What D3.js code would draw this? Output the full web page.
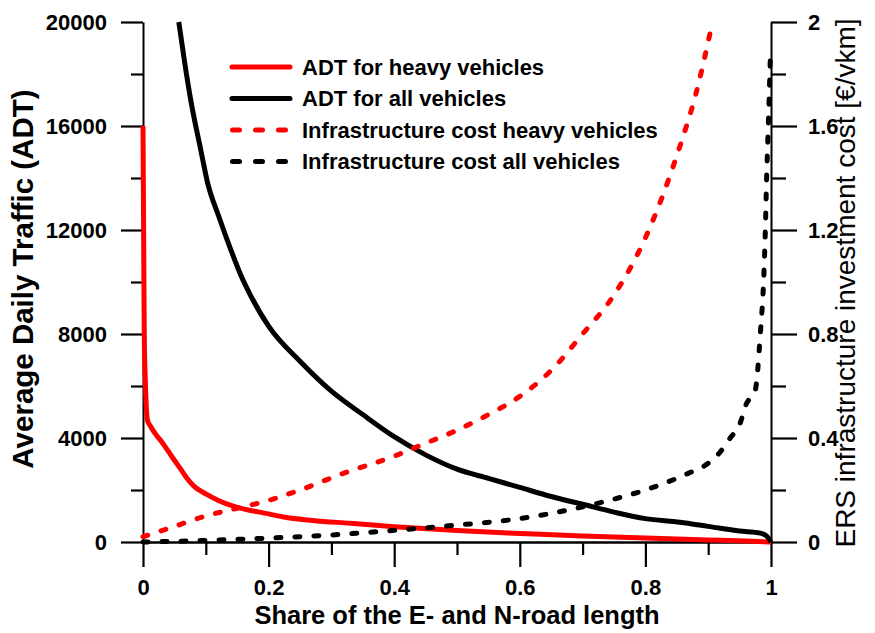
<!DOCTYPE html>
<html>
<head>
<meta charset="utf-8">
<script src="https://cdn.jsdelivr.net/npm/d3@7"></script>
<style>
  body { margin: 0; background: #fff; }
  svg { font-family: "Liberation Sans", Arial, sans-serif; }
</style>
</head>
<body>
<div id="chart"></div>
<script>
// share of road length vs ADT / cost
const heavyShare = [0, 0.001, 0.002, 0.004, 0.007, 0.012, 0.02, 0.03, 0.04, 0.047, 0.06, 0.07, 0.081, 0.1, 0.12, 0.145, 0.2, 0.224, 0.27, 0.33, 0.4, 0.5, 0.6, 0.7, 0.8, 0.9, 0.95, 1];
const heavyADT = [16000, 12000, 8000, 6000, 4700, 4450, 4150, 3850, 3500, 3250, 2800, 2450, 2150, 1850, 1600, 1370, 1080, 960, 830, 720, 590, 440, 330, 230, 150, 80, 45, 0];

const allShare = [0.057, 0.066, 0.076, 0.092, 0.103, 0.121, 0.14, 0.156, 0.172, 0.2, 0.25, 0.3, 0.35, 0.4, 0.45, 0.5, 0.55, 0.6, 0.65, 0.7, 0.75, 0.8, 0.855, 0.9, 0.95, 0.983, 0.993, 1];
const allADT = [20000, 18500, 17000, 15080, 13800, 12500, 11230, 10250, 9450, 8300, 6950, 5800, 4900, 4050, 3350, 2800, 2450, 2100, 1750, 1450, 1150, 900, 760, 600, 420, 340, 230, 0];

const costHeavyShare = [0, 0.05, 0.1, 0.15, 0.2, 0.25, 0.32, 0.4, 0.45, 0.5, 0.55, 0.6, 0.65, 0.7, 0.75, 0.8, 0.856, 0.88, 0.905];
const costHeavy = [0.02, 0.06, 0.1, 0.13, 0.16, 0.2, 0.265, 0.33, 0.38, 0.43, 0.49, 0.56, 0.66, 0.8, 0.95, 1.17, 1.53, 1.72, 1.98];

const costAllShare = [0, 0.1, 0.2, 0.3, 0.4, 0.5, 0.6, 0.65, 0.7, 0.75, 0.8, 0.85, 0.869, 0.896, 0.919, 0.935, 0.951, 0.96, 0.975, 0.983, 0.989, 0.991, 0.993, 0.995, 0.997, 0.999];
const costAll = [0, 0.006, 0.015, 0.027, 0.045, 0.065, 0.09, 0.11, 0.135, 0.165, 0.2, 0.245, 0.265, 0.296, 0.346, 0.4, 0.458, 0.527, 0.585, 0.8, 1.05, 1.2, 1.4, 1.55, 1.7, 1.87];

const seriesNames = ['ADT for heavy vehicles', 'ADT for all vehicles', 'Infrastructure cost heavy vehicles', 'Infrastructure cost all vehicles'];
const xTicks = [0, 0.2, 0.4, 0.6, 0.8, 1];
const yTicks = [0, 4000, 8000, 12000, 16000, 20000];
const y2Ticks = [0, 0.4, 0.8, 1.2, 1.6, 2];

const width = 875;
const height = 633;
const margin = { top: 22, right: 104, bottom: 91, left: 143 };
const font = 'Liberation Sans, Arial, sans-serif';

const svg = d3.select('#chart')
  .append('svg')
  .attr('width', width)
  .attr('height', height);

const x = d3.scaleLinear().domain([0, 1]).range([margin.left, width - margin.right]);
const y = d3.scaleLinear().domain([0, 20000]).range([height - margin.bottom, margin.top]);
const y2 = d3.scaleLinear().domain([0, 2]).range([height - margin.bottom, margin.top]);

const minorOf = (ticks) => d3.range(ticks.length - 1).map((i) => (ticks[i] + ticks[i + 1]) / 2);

// axes: minor ticks first, then major with labels
const styleAxis = (g, sw) => {
  g.selectAll('path').attr('stroke-width', sw);
  g.selectAll('line').attr('stroke-width', 2.2);
};
const styleLabels = (g) => g.selectAll('text')
  .attr('font-size', 22)
  .attr('font-weight', 'bold')
  .attr('fill', '#000')
  .attr('font-family', font);

svg.append('g')
  .attr('transform', `translate(${margin.left},0)`)
  .call(d3.axisLeft(y).tickValues(minorOf(yTicks)).tickSize(12).tickFormat('').tickSizeOuter(0))
  .call((g) => g.select('.domain').remove())
  .call((g) => styleAxis(g, 2));
svg.append('g')
  .attr('transform', `translate(${margin.left},0)`)
  .call(d3.axisLeft(y).tickValues(yTicks).tickSize(22).tickPadding(14).tickFormat(d3.format('d')).tickSizeOuter(0))
  .call((g) => styleAxis(g, 2))
  .call(styleLabels);

svg.append('g')
  .attr('transform', `translate(${width - margin.right},0)`)
  .call(d3.axisRight(y2).tickValues(minorOf(y2Ticks)).tickSize(15).tickFormat('').tickSizeOuter(0))
  .call((g) => g.select('.domain').remove())
  .call((g) => styleAxis(g, 2));
svg.append('g')
  .attr('transform', `translate(${width - margin.right},0)`)
  .call(d3.axisRight(y2).tickValues(y2Ticks).tickSize(26).tickPadding(11).tickFormat((d) => String(d)).tickSizeOuter(0))
  .call((g) => styleAxis(g, 2))
  .call(styleLabels);

svg.append('g')
  .attr('transform', `translate(0,${height - margin.bottom})`)
  .call(d3.axisBottom(x).tickValues(minorOf(xTicks)).tickSize(13).tickFormat('').tickSizeOuter(0))
  .call((g) => g.select('.domain').remove())
  .call((g) => styleAxis(g, 2.5));
svg.append('g')
  .attr('transform', `translate(0,${height - margin.bottom})`)
  .call(d3.axisBottom(x).tickValues(xTicks).tickSize(25).tickPadding(12).tickFormat((d) => String(d)).tickSizeOuter(0))
  .call((g) => styleAxis(g, 2.5))
  .call(styleLabels);

// axis titles
svg.append('text')
  .attr('transform', 'translate(33,279) rotate(-90)')
  .attr('text-anchor', 'middle')
  .attr('font-size', 29.5)
  .attr('font-weight', 'bold')
  .text('Average Daily Traffic (ADT)');

svg.append('text')
  .attr('x', 457)
  .attr('y', 624)
  .attr('text-anchor', 'middle')
  .attr('font-size', 25.5)
  .attr('font-weight', 'bold')
  .text('Share of the E- and N-road length');

svg.append('text')
  .attr('transform', 'translate(855,283) rotate(-90)')
  .attr('text-anchor', 'middle')
  .attr('font-size', 28)
  .text('ERS infrastructure investment cost [€/vkm]');

// lines
const lineLeft = d3.line().curve(d3.curveMonotoneX).x((d) => x(d[0])).y((d) => y(d[1]));
const lineRight = d3.line().curve(d3.curveMonotoneX).x((d) => x(d[0])).y((d) => y2(d[1]));

const series = [
  { pts: d3.zip(heavyShare, heavyADT), gen: lineLeft, color: '#ff0000', dash: null },
  { pts: d3.zip(allShare, allADT), gen: lineLeft, color: '#000000', dash: null },
  { pts: d3.zip(costHeavyShare, costHeavy), gen: lineRight, color: '#ff0000', dash: '5,14' },
  { pts: d3.zip(costAllShare, costAll), gen: lineRight, color: '#000000', dash: '5,14' },
];

svg.append('g')
  .selectAll('path')
  .data(series)
  .enter()
  .append('path')
  .attr('d', (d) => d.gen(d.pts))
  .attr('fill', 'none')
  .attr('stroke', (d) => d.color)
  .attr('stroke-width', 5)
  .attr('stroke-linejoin', 'round')
  .attr('stroke-linecap', (d) => (d.dash ? 'round' : 'butt'))
  .attr('stroke-dasharray', (d) => d.dash);

// legend
const legend = svg.append('g').attr('transform', 'translate(230,67)');
const rows = legend.selectAll('g')
  .data(series)
  .enter()
  .append('g')
  .attr('transform', (d, i) => `translate(0,${i * 31.5})`);

rows.append('line')
  .attr('x1', (d) => (d.dash ? 2.5 : 2))
  .attr('x2', 60)
  .attr('stroke', (d) => d.color)
  .attr('stroke-width', 5)
  .attr('stroke-linecap', 'round')
  .attr('stroke-dasharray', (d) => (d.dash ? '7,16' : null));

rows.append('text')
  .attr('x', 72)
  .attr('y', 7.5)
  .attr('font-size', 22)
  .attr('font-weight', 'bold')
  .text((d, i) => seriesNames[i]);
</script>
</body>
</html>
